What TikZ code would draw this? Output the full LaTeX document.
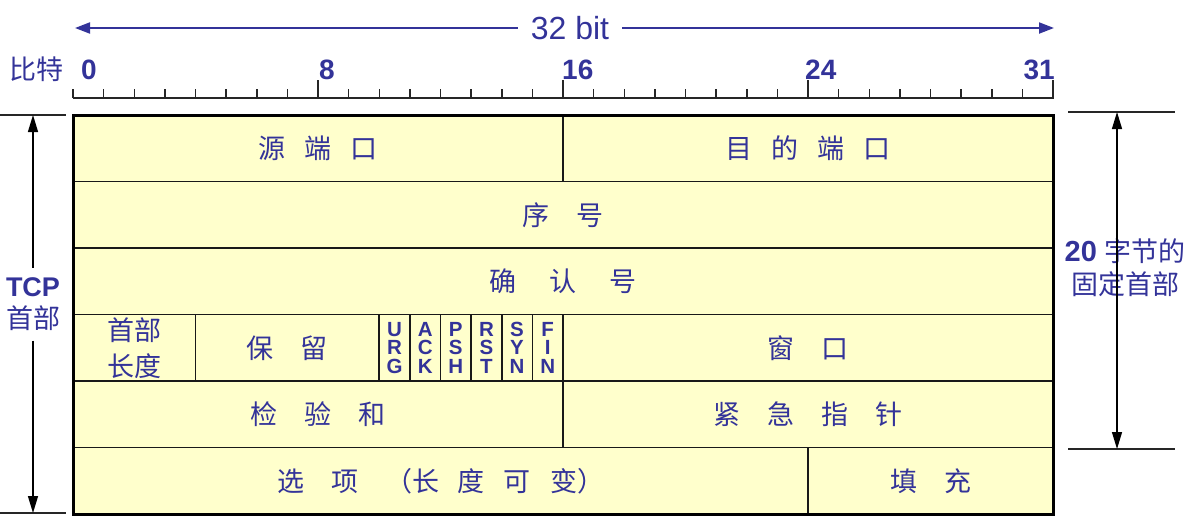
\documentclass[tikz,border=0pt]{standalone}
\usepackage{fontspec}
\setmainfont{Liberation Sans}
\newfontfamily\cjk{Noto Sans CJK SC}
\usetikzlibrary{arrows.meta}
\definecolor{tblue}{HTML}{333399}
\definecolor{fieldfill}{HTML}{FFFFCC}
\newcommand\ga{\hspace{19pt}}
\newcommand\gb{\hspace{27pt}}
\newcommand\gc{\hspace{33pt}}
\begin{document}
\begin{tikzpicture}[x=1pt,y=-1pt,
  field/.style={draw=black!90, line width=1.7pt, fill=fieldfill, anchor=north west,
    inner sep=0pt, outer sep=0pt, minimum height=66.5pt, text=tblue,
    font=\fontsize{27}{36}\selectfont\cjk, align=center},
  flag/.style={field, minimum width=30.625pt, font=\fontsize{20.5}{18.5}\selectfont\bfseries},
  rulerline/.style={draw=black!85, line width=1.5pt},
  num/.style={text=tblue, inner sep=0pt, font=\fontsize{28}{30}\selectfont\bfseries},
  annline/.style={draw=black!85, line width=1.3pt},
  blackarrow/.style={draw=black, line width=1.3pt},
  bluearrow/.style={draw=tblue, line width=2pt, -{Triangle[length=15pt,width=11pt]}},
  anntext/.style={text=tblue, inner sep=0pt, align=center}
]
\useasboundingbox (0,0) rectangle (1201,520);

% top "32 bit" arrow
\node[anntext, font=\fontsize{32}{36}\selectfont, outer sep=13pt] (bits) at (570,28) {32 bit};
\coordinate (bl) at (75,28);
\coordinate (br) at (1054,28);
\draw[bluearrow] (bits) -- (bl);
\draw[bluearrow] (bits) -- (br);

% ruler
\node[anntext, font=\fontsize{27}{30}\selectfont\cjk, anchor=east] (bitlabel) at (64,69) {比特};
\draw[rulerline] (73,98) -- (1053.5,98);
\foreach \b in {0,...,32} \draw[rulerline] (73+30.625*\b,98) -- ++(0,-9);
\foreach \b in {8,16,24,32} \draw[rulerline] (73+30.625*\b,98) -- ++(0,-18);
\node[num, anchor=south west] (n0) at (81,80) {0};
\node[num, anchor=south west] (n8) at (319,80) {8};
\node[num, anchor=south west] (n16) at (562,80) {16};
\node[num, anchor=south west] (n24) at (805,80) {24};
\node[num, anchor=south east] (n31) at (1055,80) {31};

% fields
\node[field, minimum width=490pt] (srcport) at (73,115) {源\ga 端\ga 口};
\node[field, minimum width=490pt] (dstport) at (563,115) {目\ga 的\ga 端\ga 口};
\node[field, minimum width=980pt] (seq) at (73,181.5) {序\gb 号};
\node[field, minimum width=980pt] (ack) at (73,248) {确\gc 认\gc 号};
\node[field, minimum width=122.5pt] (hlen) at (73,314.5) {首部\\长度};
\node[field, minimum width=183.75pt] (resv) at (195.5,314.5) {保\gb 留};
\node[flag] (urg) at (379.25,314.5) {U\\R\\G};
\node[flag] (fack) at (409.875,314.5) {A\\C\\K};
\node[flag] (psh) at (440.5,314.5) {P\\S\\H};
\node[flag] (rst) at (471.125,314.5) {R\\S\\T};
\node[flag] (syn) at (501.75,314.5) {S\\Y\\N};
\node[flag] (fin) at (532.375,314.5) {F\\I\\N};
\node[field, minimum width=490pt] (win) at (563,314.5) {窗\gb 口};
\node[field, minimum width=490pt] (csum) at (73,381) {检\gb 验\gb 和};
\node[field, minimum width=490pt] (urgp) at (563,381) {紧\gb 急\gb 指\gb 针};
\node[field, minimum width=735pt] (opts) at (73,447.5) {选\gb 项\gb （长\ga 度\ga 可\ga 变）};
\node[field, minimum width=245pt] (pad) at (808,447.5) {填\gb 充};
\draw[draw=black, line width=3pt] (srcport.north west) rectangle (pad.south east);

% left annotation
\coordinate (lt1) at (0,115);
\coordinate (lt2) at (66,115);
\coordinate (lb1) at (0,513);
\coordinate (lb2) at (66,513);
\draw[annline] (lt1) -- (lt2);
\draw[annline] (lb1) -- (lb2);
\node[anntext, font=\fontsize{27}{32}\selectfont, outer sep=10pt] (tcp) at (33,304)
  {{\bfseries TCP}\\{\cjk 首部}};
\coordinate (la1) at (33,115);
\coordinate (la2) at (33,513);
\draw[blackarrow, -{Triangle[length=17pt,width=10pt]}] (tcp) -- (la1);
\draw[blackarrow, -{Triangle[length=17pt,width=10pt]}] (tcp) -- (la2);

% right annotation
\coordinate (rt1) at (1068,112);
\coordinate (rt2) at (1175,112);
\coordinate (rb1) at (1068,449);
\coordinate (rb2) at (1175,449);
\draw[annline] (rt1) -- (rt2);
\draw[annline] (rb1) -- (rb2);
\node[anntext, font=\fontsize{27}{33}\selectfont] (fixed) at (1125,268)
  {{\fontsize{29}{33}\selectfont\bfseries 20} {\cjk 字节的}\\{\cjk 固定首部}};
\coordinate (ra1) at (1117,112);
\coordinate (ra2) at (1117,449);
\draw[blackarrow, {Triangle[length=17pt,width=10pt]}-{Triangle[length=17pt,width=10pt]}] (ra1) -- (ra2);
\end{tikzpicture}
\end{document}
